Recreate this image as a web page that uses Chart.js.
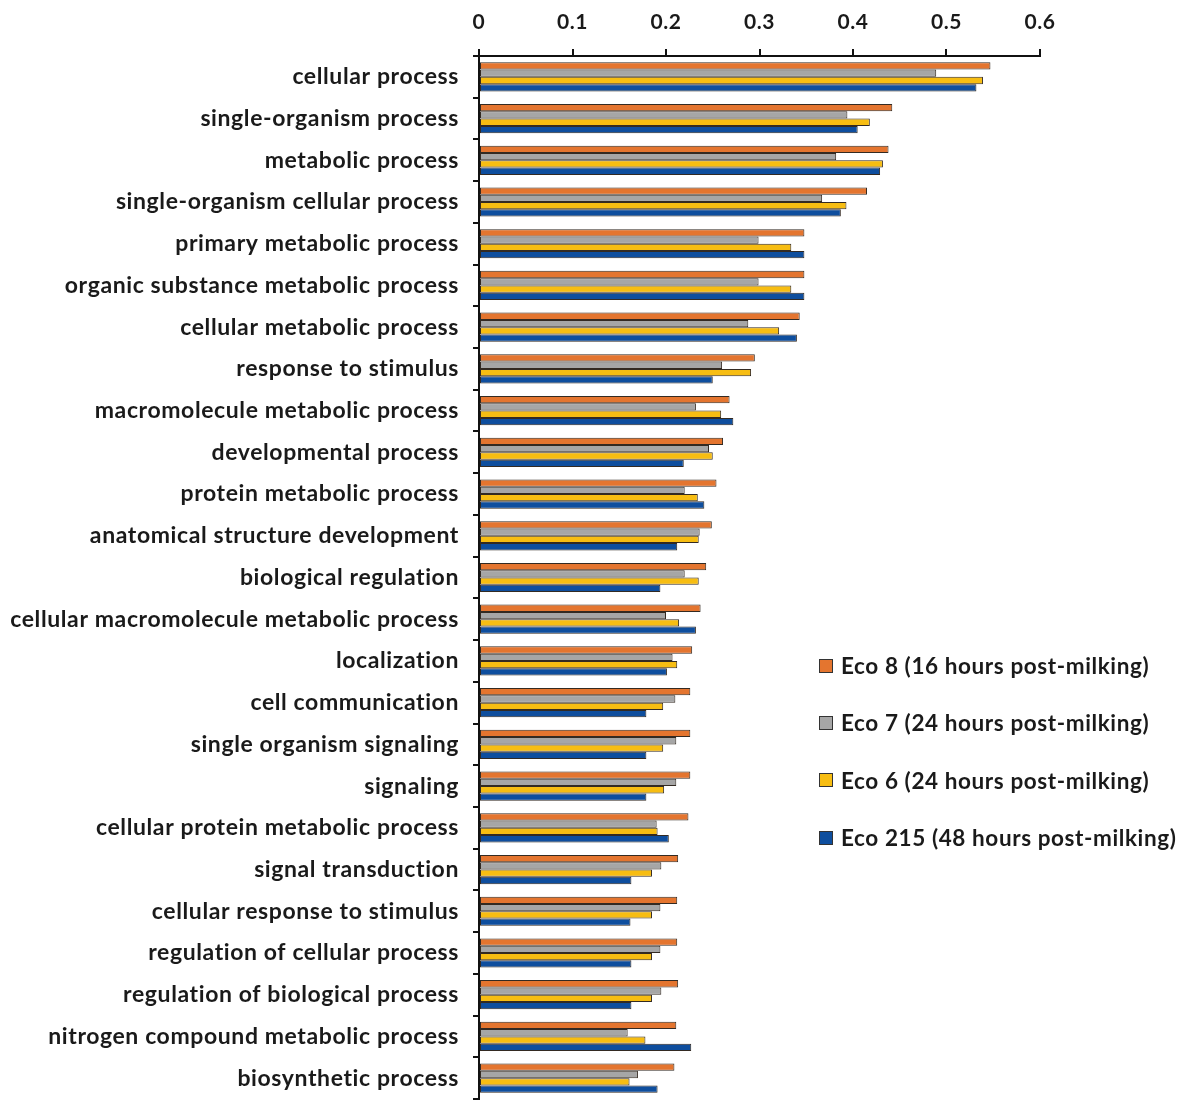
<!DOCTYPE html>
<html>
<head>
<meta charset="utf-8">
<script src="https://cdn.jsdelivr.net/npm/chart.js@4.4.1/dist/chart.umd.min.js"></script>
<style>
  body { margin: 0; background: #fff; }
  #wrap { position: relative; width: 1177px; height: 1101px; overflow: hidden; }
  #legend { position: absolute; left: 819px; top: 637px; font: bold 22.5px Lato, "Open Sans", sans-serif; letter-spacing: 0.6px; color: #1a1a1a; }
  #legend div { height: 57.3px; display: flex; align-items: center; white-space: nowrap; }
  #legend span.box { display: inline-block; box-sizing: border-box; width: 14px; height: 14px; border: 1px solid #333; margin-right: 8px; }
</style>
</head>
<body>
<div id="wrap">
  <canvas id="goChart" width="1177" height="1101"></canvas>
  <div id="legend"></div>
</div>
<script>
const terms = [
  'cellular process', 'single-organism process', 'metabolic process',
  'single-organism cellular process', 'primary metabolic process',
  'organic substance metabolic process', 'cellular metabolic process',
  'response to stimulus', 'macromolecule metabolic process',
  'developmental process', 'protein metabolic process',
  'anatomical structure development', 'biological regulation',
  'cellular macromolecule metabolic process', 'localization',
  'cell communication', 'single organism signaling', 'signaling',
  'cellular protein metabolic process', 'signal transduction',
  'cellular response to stimulus', 'regulation of cellular process',
  'regulation of biological process', 'nitrogen compound metabolic process',
  'biosynthetic process'
];

const eco8 = [0.547, 0.442, 0.438, 0.415, 0.348, 0.348, 0.343, 0.295, 0.268, 0.261,
  0.254, 0.249, 0.243, 0.237, 0.228, 0.226, 0.226, 0.226, 0.224, 0.213,
  0.212, 0.212, 0.213, 0.211, 0.209];
const eco7 = [0.489, 0.394, 0.382, 0.367, 0.299, 0.299, 0.288, 0.260, 0.232, 0.246,
  0.220, 0.236, 0.220, 0.200, 0.207, 0.210, 0.211, 0.211, 0.190, 0.195,
  0.194, 0.194, 0.195, 0.159, 0.170];
const eco6 = [0.539, 0.418, 0.432, 0.393, 0.334, 0.334, 0.321, 0.291, 0.259, 0.250,
  0.234, 0.235, 0.235, 0.214, 0.212, 0.197, 0.197, 0.198, 0.191, 0.185,
  0.185, 0.185, 0.185, 0.178, 0.161];
const eco215 = [0.532, 0.405, 0.429, 0.387, 0.348, 0.348, 0.340, 0.250, 0.272, 0.219,
  0.241, 0.212, 0.194, 0.232, 0.201, 0.179, 0.179, 0.179, 0.203, 0.163,
  0.162, 0.163, 0.163, 0.227, 0.191];

const seriesNames = [
  'Eco 8 (16 hours post-milking)',
  'Eco 7 (24 hours post-milking)',
  'Eco 6 (24 hours post-milking)',
  'Eco 215 (48 hours post-milking)'
];
const seriesColors = ['#e4752f', '#a6a6a6', '#f7bd12', '#0e4e9e'];
const seriesData = [eco8, eco7, eco6, eco215];

const fontFamily = 'Lato, "Open Sans", sans-serif';

// slightly wider letter spacing for all canvas text
const spacing = {
  id: 'spacing',
  beforeUpdate(chart) { chart.ctx.letterSpacing = '0.6px'; },
  beforeDraw(chart) { chart.ctx.letterSpacing = '0.6px'; }
};

const chart = new Chart(document.getElementById('goChart'), {
  type: 'bar',
  data: {
    labels: terms,
    datasets: seriesData.map((d, i) => ({
      label: seriesNames[i],
      data: d,
      backgroundColor: seriesColors[i],
      borderColor: '#332a22',
      borderWidth: 1,
      borderSkipped: false,
      categoryPercentage: 0.7,
      barPercentage: 1.0
    }))
  },
  options: {
    indexAxis: 'y',
    responsive: false,
    animation: false,
    layout: { padding: { left: 0, right: 137, top: 0, bottom: 2 } },
    plugins: {
      legend: { display: false },
      tooltip: { enabled: false }
    },
    scales: {
      x: {
        position: 'top',
        min: 0,
        max: 0.6,
        afterFit: s => { s.height = 56; },
        ticks: {
          stepSize: 0.1,
          padding: 14,
          color: '#1a1a1a',
          font: { family: fontFamily, size: 21, weight: 'bold' },
          callback: v => Math.round(v * 10) / 10
        },
        grid: { drawOnChartArea: false, drawTicks: true, tickLength: 7, color: '#111', lineWidth: 2 },
        border: { display: true, color: '#111', width: 2 }
      },
      y: {
        afterFit: s => { s.width = 479; s.paddingTop = 0; s.paddingBottom = 0; },
        ticks: {
          padding: 14,
          color: '#1a1a1a',
          font: { family: fontFamily, size: 23, weight: 'bold' }
        },
        grid: { drawOnChartArea: false, drawTicks: true, tickLength: 6, color: '#111', lineWidth: 2, offset: true },
        border: { display: true, color: '#111', width: 2 }
      }
    }
  },
  plugins: [spacing]
});

// legend beside the bars
const legendEl = document.getElementById('legend');
seriesNames.forEach((name, i) => {
  const row = document.createElement('div');
  row.innerHTML = '<span class="box" style="background:' + seriesColors[i] + '"></span>' + name;
  legendEl.appendChild(row);
});
</script>
</body>
</html>
